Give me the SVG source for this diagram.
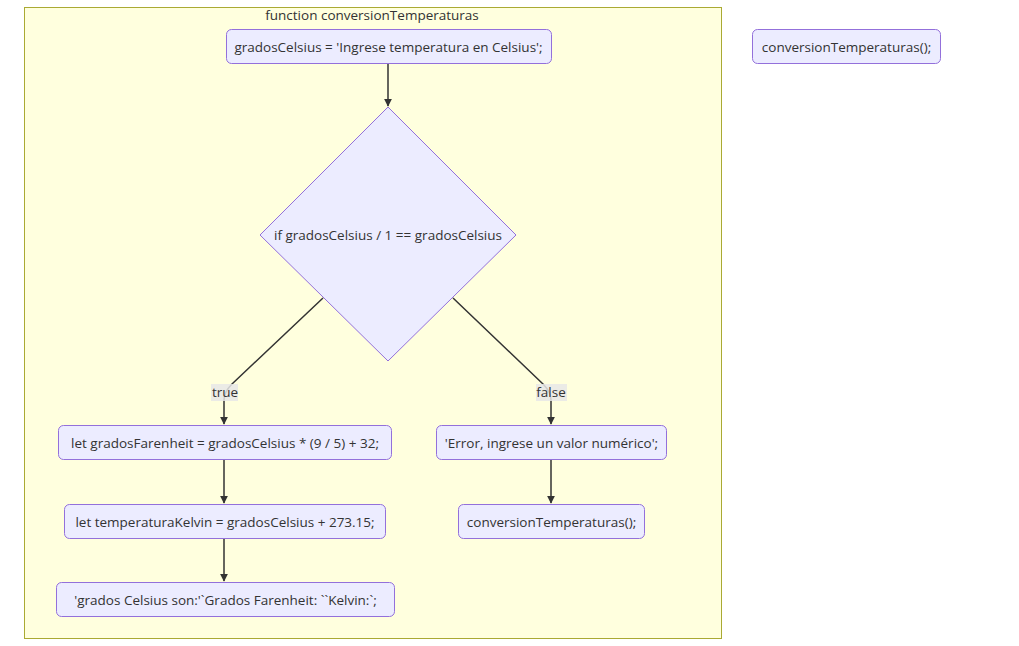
<svg xmlns="http://www.w3.org/2000/svg" width="1019" height="646" viewBox="0 0 1019 646">
<style>
.node{fill:#ECECFF;stroke:#9370DB;stroke-width:1}
.t{font-family:"Open Sans","DejaVu Sans",sans-serif;font-size:13.5px;fill:#333;text-anchor:middle;dominant-baseline:central}
.e{fill:none;stroke:#333;stroke-width:1.5}
.lbl{fill:#e8e8e8;opacity:0.85}
</style>
<defs>
<marker id="arr" viewBox="0 0 10 10" refX="9" refY="5" markerWidth="8" markerHeight="8" orient="auto" markerUnits="userSpaceOnUse"><path d="M0,0 L10,5 L0,10 z" fill="#333"/></marker>
</defs>
<rect width="1019" height="646" fill="#fff"/>
<g id="cluster">
<rect x="24.5" y="7.5" width="697" height="631" fill="#ffffde" stroke="#aaaa33"/>
<text class="t" x="372" y="15">function conversionTemperaturas</text>
</g>
<g id="edges">
<path class="e" d="M388,63 V106" marker-end="url(#arr)"/>
<path class="e" d="M323,298 L232,384 Q224,392 224,400 V424" marker-end="url(#arr)"/>
<path class="e" d="M453,298 L543,384 Q551,392 551,400 V424" marker-end="url(#arr)"/>
<path class="e" d="M224,459 V503" marker-end="url(#arr)"/>
<path class="e" d="M224,538 V581" marker-end="url(#arr)"/>
<path class="e" d="M551,459 V503" marker-end="url(#arr)"/>
<rect class="lbl" x="211" y="384" width="27" height="17"/>
<text class="t" x="225" y="392">true</text>
<rect class="lbl" x="536" y="384" width="31" height="17"/>
<text class="t" x="551" y="392">false</text>
</g>
<g id="n1"><rect class="node" x="226.5" y="29.5" width="325" height="34" rx="5"/><text class="t" x="388.5" y="46.5">gradosCelsius = 'Ingrese temperatura en Celsius';</text></g>
<g id="n2"><polygon class="node" points="388,107 516,235 388,361 260,235"/><text class="t" x="388" y="235">if gradosCelsius / 1 == gradosCelsius</text></g>
<g id="n3"><rect class="node" x="58.5" y="425.5" width="333" height="34" rx="5"/><text class="t" x="225" y="442.5">let gradosFarenheit = gradosCelsius * (9 / 5) + 32;</text></g>
<g id="n4"><rect class="node" x="64.5" y="504.5" width="321" height="34" rx="5"/><text class="t" x="225" y="521.5">let temperaturaKelvin = gradosCelsius + 273.15;</text></g>
<g id="n5"><rect class="node" x="56.5" y="582.5" width="338" height="34" rx="5"/><text class="t" x="225.5" y="599.5">'grados Celsius son:'`Grados Farenheit: ``Kelvin:`;</text></g>
<g id="n6"><rect class="node" x="436.5" y="425.5" width="230" height="34" rx="5"/><text class="t" x="551.5" y="442.5">'Error, ingrese un valor numérico';</text></g>
<g id="n7"><rect class="node" x="458.5" y="504.5" width="186" height="34" rx="5"/><text class="t" x="551.5" y="521.5">conversionTemperaturas();</text></g>
<g id="n8"><rect class="node" x="752.5" y="29.5" width="188" height="34" rx="5"/><text class="t" x="846.5" y="46.5">conversionTemperaturas();</text></g>
</svg>
